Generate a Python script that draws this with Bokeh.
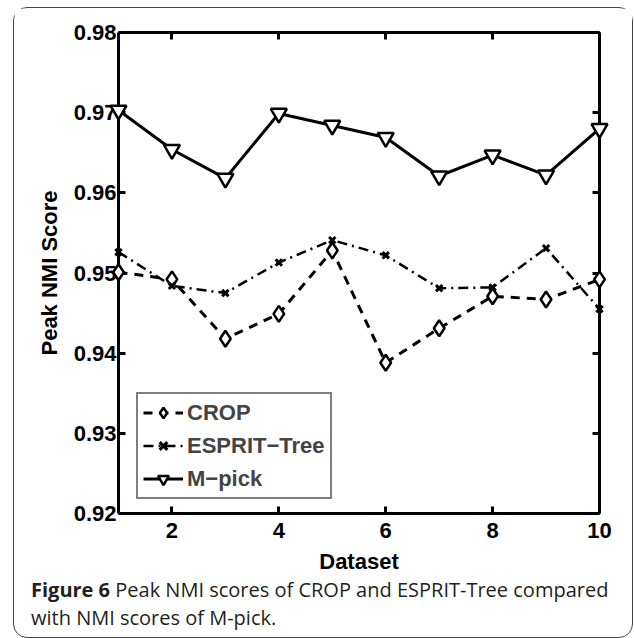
from bokeh.plotting import figure
from bokeh.models import (Range1d, LinearAxis, FixedTicker, Legend, LegendItem, Div,
                          NumeralTickFormatter, CustomLabelingPolicy)
from bokeh.layouts import column
from bokeh.embed import file_html
from bokeh.resources import INLINE

datasets = [1, 2, 3, 4, 5, 6, 7, 8, 9, 10]
crop = [0.9501, 0.9492, 0.9418, 0.9449, 0.9528, 0.9388, 0.9431, 0.9471, 0.9467, 0.9492]
esprit = [0.9526, 0.9484, 0.9475, 0.9513, 0.9541, 0.9522, 0.9481, 0.9482, 0.9531, 0.9455]
mpick = [0.9703, 0.9654, 0.9618, 0.9699, 0.9684, 0.9669, 0.9621, 0.9647, 0.9622, 0.9680]
y_ticks = [0.92, 0.93, 0.94, 0.95, 0.96, 0.97, 0.98]
x_ticks = [2, 4, 6, 8, 10]
series_names = ["CROP", "ESPRIT\u2212Tree", "M\u2212pick"]

FONT = "Liberation Sans"

p = figure(width=618, height=572, x_range=Range1d(1, 10), y_range=Range1d(0.92, 0.98),
           output_backend="svg", toolbar_location=None,
           min_border_left=104, min_border_right=33, min_border_top=24, min_border_bottom=67)
p.outline_line_color = None
p.xgrid.visible = False
p.ygrid.visible = False
p.background_fill_color = "white"
p.border_fill_color = "white"

no_labels = CustomLabelingPolicy(code="""
for (const i of indices) indices.unset(i)
return indices
""")

def style_axis(ax, show_labels=True):
    ax.axis_line_width = 3
    ax.axis_line_color = "black"
    ax.major_tick_line_width = 3
    ax.major_tick_in = 7
    ax.major_tick_out = 0
    ax.minor_tick_line_color = None
    ax.major_label_text_font = FONT
    ax.major_label_text_font_style = "bold"
    ax.major_label_text_font_size = "22px"
    ax.major_label_text_color = "black"
    ax.axis_label_text_font = FONT
    ax.axis_label_text_font_style = "bold"
    ax.axis_label_text_font_size = "22px"
    ax.axis_label_text_color = "black"
    if not show_labels:
        ax.major_label_policy = no_labels
        ax.major_label_text_font_size = "0px"
        ax.major_label_standoff = 0

xa = p.xaxis[0]
ya = p.yaxis[0]
xa.ticker = FixedTicker(ticks=x_ticks)
ya.ticker = FixedTicker(ticks=y_ticks)
ya.formatter = NumeralTickFormatter(format="0.00")
style_axis(xa)
style_axis(ya)
xa.axis_label = "Dataset"
ya.axis_label = "Peak NMI Score"
xa.major_label_standoff = 9
xa.axis_label_standoff = 8
ya.major_label_standoff = 2
ya.axis_label_standoff = 9

top = LinearAxis(ticker=FixedTicker(ticks=x_ticks))
style_axis(top, False)
right = LinearAxis(ticker=FixedTicker(ticks=y_ticks))
style_axis(right, False)
p.add_layout(top, "above")
p.add_layout(right, "right")

l1 = p.line(datasets, crop, line_color="black", line_width=3, line_dash="9 7")
m1 = p.scatter(datasets, crop, marker="diamond", size=16, fill_color="white",
               line_color="black", line_width=2.5, level="overlay")
l2 = p.line(datasets, esprit, line_color="black", line_width=2.5, line_dash="10 5 2 5")
m2 = p.scatter(datasets, esprit, marker="x", size=9, line_color="black",
               line_width=3, level="overlay")
l3 = p.line(datasets, mpick, line_color="black", line_width=3)
m3 = p.scatter(datasets, mpick, marker="inverted_triangle", size=16, fill_color="white",
               line_color="black", line_width=2.5, level="overlay")

legend = Legend(items=[
    LegendItem(label=series_names[0], renderers=[l1, m1]),
    LegendItem(label=series_names[1], renderers=[l2, m2]),
    LegendItem(label=series_names[2], renderers=[l3, m3]),
], location=(18, 14))
legend.border_line_color = "black"
legend.border_line_width = 2.5
legend.background_fill_color = "white"
legend.background_fill_alpha = 1
legend.label_text_font = FONT
legend.label_text_font_style = "bold"
legend.label_text_font_size = "22px"
legend.glyph_width = 40
legend.glyph_height = 27
legend.label_height = 27
legend.label_standoff = 4
legend.spacing = 6
legend.padding = 5
legend.margin = 0
p.add_layout(legend)

caption = Div(
    text='<span style="font-weight:bold">Figure 6</span> Peak NMI scores of CROP and ESPRIT-Tree compared<br>with NMI scores of M-pick.',
    width=600, height=56,
    styles={"font-family": "Open Sans", "font-size": "20px", "color": "#231f20",
            "line-height": "28px", "padding-left": "12px", "padding-top": "0px",
            "margin-top": "-4px"})

layout = column(p, caption, styles={"border": "1.5px solid #444", "border-radius": "14px",
                                    "margin-left": "13px", "margin-top": "7px",
                                    "background": "white"})

open("out.html", "w").write(file_html(layout, INLINE))
